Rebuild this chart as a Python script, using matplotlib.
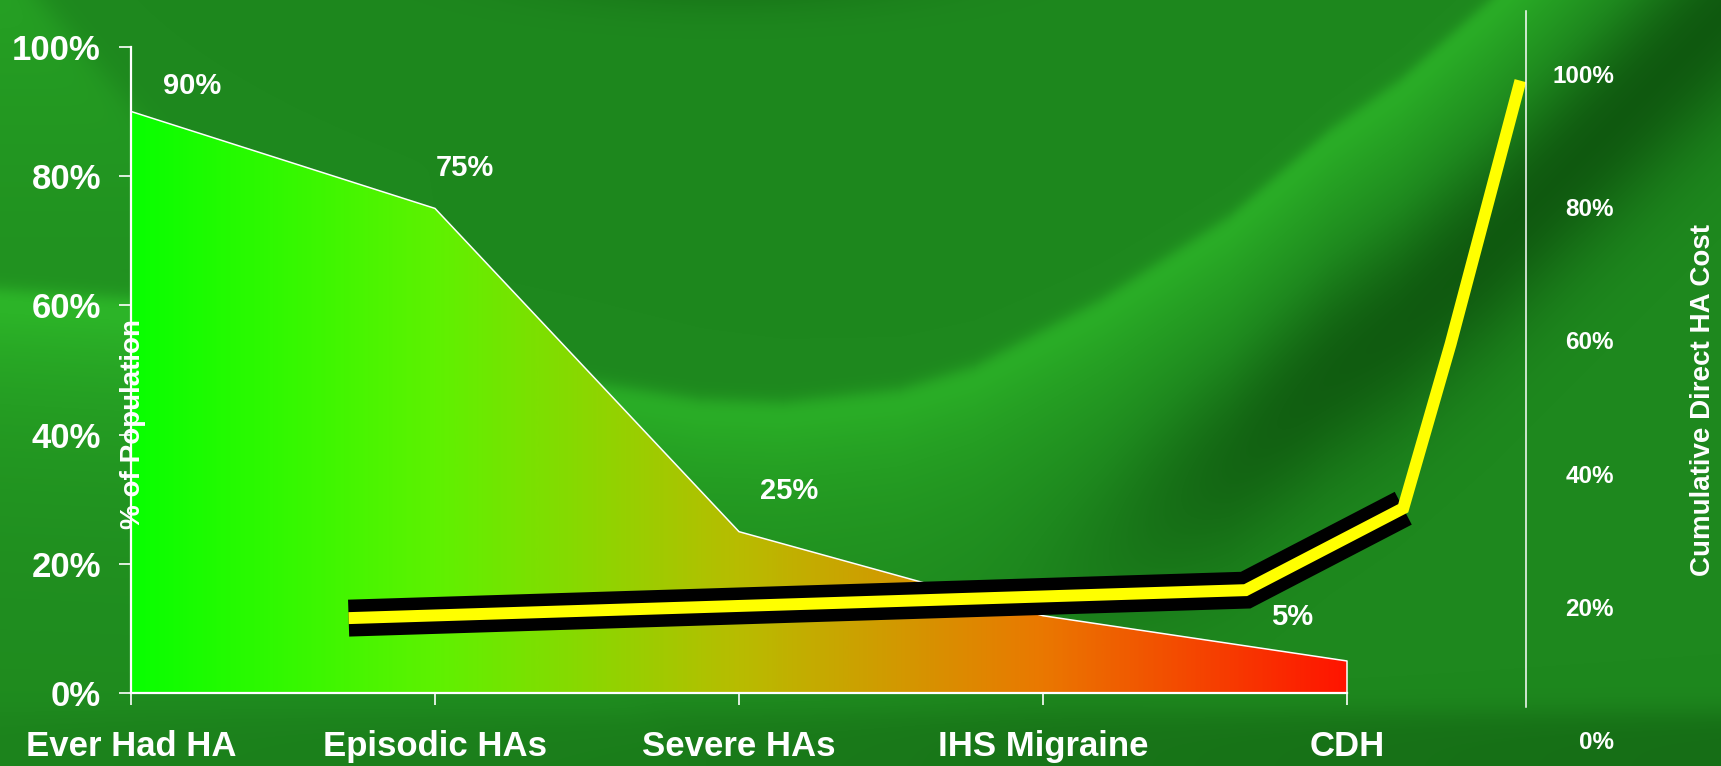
import numpy as np
import matplotlib
matplotlib.use("Agg")
import matplotlib.pyplot as plt
from matplotlib.colors import LinearSegmentedColormap
from matplotlib.patches import PathPatch

plt.rcParams['font.family'] = ['Liberation Sans', 'DejaVu Sans']
plt.rcParams['font.weight'] = 'bold'

# --- data -------------------------------------------------------------
categories = ['Ever Had HA', 'Episodic HAs', 'Severe HAs', 'IHS Migraine', 'CDH']
population = [90, 75, 25, 12, 5]                 # % of population (left axis)
pop_labels = ['90%', '75%', '25%', '', '5%']
label_offsets = [(61, 25), (30, 40), (50, 41), (0, 0), (-55, 44)]   # pixels

# cumulative direct cost curve (secondary scales, 0-100 both ways)
cost_x = [15.6, 79.9, 91.2, 94.6, 99.6]
cost_y = [18.3, 22.5, 34.8, 59.5, 99.0]

left_ticks = [0, 20, 40, 60, 80, 100]
right_ticks = [0, 20, 40, 60, 80, 100]

W, H = 1721, 766
fig = plt.figure(figsize=(W / 100, H / 100), dpi=100)


# --- green wavy background -------------------------------------------
def make_background():
    xx, yy = np.meshgrid(np.arange(W), np.arange(H))
    ex = [0, 150, 300, 450, 591, 700, 783, 900, 974, 1101, 1229, 1330, 1400, 1490, 1721]
    ey = [290, 300, 330, 365, 383, 400, 403, 390, 367, 300, 217, 130, 80, 0, -230]
    edge = np.interp(xx, ex, ey)
    d = yy - edge
    sig = lambda t: 1 / (1 + np.exp(-t))
    b = 1.0 * np.exp(-np.clip(d, 0, None) / 110) * sig(d / 5)
    # dark band right of the bright wave
    b -= 1.0 * np.exp(-((d - 240) / 110) ** 2) * sig((xx - 1150) / 70)
    # dark arc at top
    b -= 0.6 * np.exp(-(((xx - 730) / 280) ** 2 + ((yy + 40) / 60) ** 2) * 2)
    # lighter top-left corner
    b += 0.55 * sig((40 + 0.85 * yy - xx) / 10) * np.exp(-yy / 300)
    # darker bottom strip, right side stronger
    b -= 0.5 * sig((yy - 712) / 8) * (0.3 + 0.7 * xx / W)
    b = np.clip(b, -1, 1)
    dark = np.array([14, 84, 14]) / 255
    mid = np.array([30, 136, 30]) / 255
    light = np.array([44, 180, 40]) / 255
    t = b[..., None]
    img = np.where(t >= 0, mid + t * (light - mid), mid + (-t) * (dark - mid))
    return img


bg = fig.add_axes([0, 0, 1, 1], zorder=0)
bg.imshow(make_background(), aspect='auto', extent=[0, W, H, 0])
bg.axis('off')

# --- main area chart --------------------------------------------------
x0, x_right, step = 131, 1526, 304
y_zero, y_top = 693.3, 46.8
ax = fig.add_axes([x0 / W, (H - y_zero) / H, (x_right - x0) / W, (y_zero - y_top) / H], zorder=1)
ax.set_facecolor('none')
xs = np.arange(len(categories))

poly = ax.fill_between(xs, population, 0, color='none')
clip = PathPatch(poly.get_paths()[0], transform=ax.transData, facecolor='none', edgecolor='none')
ax.add_patch(clip)
cmap = LinearSegmentedColormap.from_list('pop', ['#08ff00', '#5ef200', '#b8bc00', '#ea7800', '#ff1400'])
grad = np.linspace(0, 1, 512).reshape(1, -1)
im = ax.imshow(grad, extent=[0, len(categories) - 1, 0, 100], aspect='auto', cmap=cmap, zorder=1)
im.set_clip_path(clip)

ax.plot(np.r_[xs, xs[-1]], np.r_[population, 0], color='white', lw=1.1, zorder=2)

for xi, v, lab, off in zip(xs, population, pop_labels, label_offsets):
    if lab:
        ax.annotate(lab, (xi, v), xytext=off, textcoords='offset pixels',
                    ha='center', va='center', fontsize=21, color='white')

ax.set_xlim(0, (x_right - x0) / step)
ax.set_ylim(0, 100)
ax.set_xticks(xs)
ax.set_xticklabels(categories)
ax.set_yticks(left_ticks)
ax.set_yticklabels([f'{t}%' for t in left_ticks])
for s in ['top', 'right']:
    ax.spines[s].set_visible(False)
for s in ['left', 'bottom']:
    ax.spines[s].set_color('white')
    ax.spines[s].set_linewidth(1.6)
ax.spines['bottom'].set_bounds(0, len(categories) - 1)
ax.spines['left'].set_bounds(0, 100)
ax.tick_params(axis='x', direction='out', length=8.6, width=1.2, color='white',
               labelcolor='white', labelsize=25, pad=18)
ax.tick_params(axis='y', direction='out', length=8.6, width=1.2, color='white',
               labelcolor='white', labelsize=25, pad=13)

# --- cumulative cost line (secondary axes) ---------------------------
y2_zero, px_per = 740, 6.66
ax2 = fig.add_axes([x0 / W, (H - y2_zero) / H, (x_right - x0) / W, (y2_zero - 11) / H], zorder=2)
ax2.set_facecolor('none')
ax2.set_xlim(0, 100)
ax2.set_ylim(0, (y2_zero - 11) / px_per)
ax2.plot(cost_x[:3], cost_y[:3], color='black', lw=26.6, solid_capstyle='butt', solid_joinstyle='miter')
ax2.plot(cost_x, cost_y, color='#ffff00', lw=8.6, solid_capstyle='butt', solid_joinstyle='miter')
for s in ['top', 'left', 'bottom']:
    ax2.spines[s].set_visible(False)
ax2.spines['right'].set_color('white')
ax2.spines['right'].set_linewidth(1.1)
ax2.spines['right'].set_bounds((y2_zero - 707) / px_per, (y2_zero - 11) / px_per)
ax2.set_xticks([])
ax2.yaxis.tick_right()
ax2.set_yticks(right_ticks)
ax2.set_yticklabels([f'{t}%' for t in right_ticks])
ax2.tick_params(axis='y', length=0, pad=63.4, labelsize=17.5, labelcolor='white')
for lab in ax2.get_yticklabels():
    lab.set_horizontalalignment('right')

fig.text(132.5 / W, 1 - 424 / H, '% of Population', rotation=90, ha='center', va='center',
         fontsize=20, color='white', zorder=5)
fig.text(1703 / W, 1 - 400 / H, 'Cumulative Direct HA Cost', rotation=90, ha='center', va='center',
         fontsize=20, color='white', zorder=5)

fig.savefig('out.png', dpi=100)
